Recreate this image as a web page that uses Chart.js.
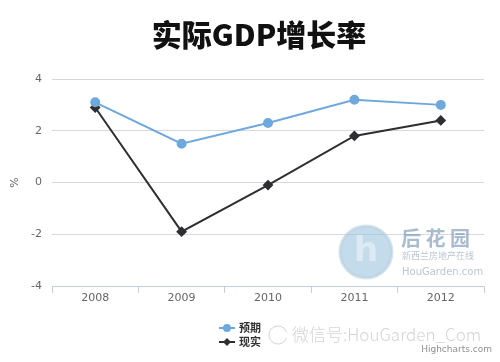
<!DOCTYPE html>
<html><head><meta charset="utf-8">
<script src="https://cdn.jsdelivr.net/npm/chart.js@4"></script>
<style>html,body{margin:0;padding:0;background:#fff}#wrap{width:500px;height:362px;position:relative}</style>
</head><body><div id="wrap"><canvas id="c" width="500" height="362"></canvas></div>
<script>
const title = '实际GDP增长率';
const years = ['2008', '2009', '2010', '2011', '2012'];
const expected = [3.1, 1.5, 2.3, 3.2, 3.0];
const actual = [2.9, -1.9, -0.1, 1.8, 2.4];
const seriesNames = ['预期', '现实'];
const yTicks = [-4, -2, 0, 2, 4];
const yTitle = '%';

const decor = {
  id: 'decor',
  afterDraw(chart) {
    const ctx = chart.ctx;
    ctx.save();
    // title
    ctx.fillStyle = '#111';
    ctx.font = '900 30px "Noto Sans CJK SC"';
    ctx.textAlign = 'center';
    ctx.textBaseline = 'middle';
    ctx.fillText(title, 259, 35);
    // legend
    const ds = chart.data.datasets;
    ds.forEach((d, i) => {
      const y = 328 + i * 14;
      ctx.strokeStyle = d.borderColor;
      ctx.lineWidth = 2;
      ctx.beginPath(); ctx.moveTo(219, y); ctx.lineTo(235, y); ctx.stroke();
      ctx.fillStyle = d.borderColor;
      ctx.beginPath();
      if (d.pointStyle === 'rectRot') {
        ctx.moveTo(227, y - 4); ctx.lineTo(231, y); ctx.lineTo(227, y + 4); ctx.lineTo(223, y);
      } else {
        ctx.arc(227, y, 4, 0, Math.PI * 2);
      }
      ctx.fill();
      ctx.fillStyle = '#333';
      ctx.font = 'bold 11px "Noto Sans CJK SC"';
      ctx.textAlign = 'left';
      ctx.fillText(d.label, 239, y);
    });
    // watermark text
    ctx.fillStyle = 'rgba(170,170,170,0.5)';
    ctx.font = '300 17px "Noto Sans CJK SC"';
    ctx.textAlign = 'left';
    ctx.fillText('微信号:HouGarden_Com', 292, 335);
    ctx.strokeStyle = 'rgba(170,170,170,0.5)';
    ctx.lineWidth = 1;
    ctx.beginPath(); ctx.arc(278, 335, 9, 0.3, Math.PI * 1.9); ctx.stroke();
    // credit
    ctx.fillStyle = '#909090';
    ctx.font = '9px "DejaVu Sans"';
    ctx.textAlign = 'right';
    ctx.fillText('Highcharts.com', 492, 350);
    // logo watermark
    ctx.globalAlpha = 0.6;
    ctx.fillStyle = '#9cc3e0';
    ctx.strokeStyle = '#b8cfe0';
    ctx.lineWidth = 3;
    ctx.beginPath(); ctx.arc(366, 252, 26, 0, Math.PI * 2); ctx.fill(); ctx.stroke();
    ctx.fillStyle = '#eef4fa';
    ctx.font = 'bold 34px "DejaVu Sans"';
    ctx.textAlign = 'center';
    ctx.fillText('h', 366, 252);
    ctx.fillStyle = '#6f8fae';
    ctx.font = 'bold 20px "Noto Sans CJK SC"';
    ctx.textAlign = 'left';
    ctx.fillText('后 花 园', 401, 238);
    ctx.font = '9px "Noto Sans CJK SC"';
    ctx.fillStyle = '#8aa0b5';
    ctx.fillText('新西兰房地产在线', 402, 256);
    ctx.font = '10px "DejaVu Sans"';
    ctx.fillText('HouGarden.com', 402, 272);
    ctx.restore();
  }
};

new Chart(document.getElementById('c'), {
  type: 'line',
  data: {
    labels: years,
    datasets: [
      { label: seriesNames[0], data: expected, borderColor: '#6fa8dc', backgroundColor: '#6fa8dc',
        borderWidth: 2, pointRadius: 4, pointHoverRadius: 4, pointStyle: 'circle', tension: 0 },
      { label: seriesNames[1], data: actual, borderColor: '#2e2e33', backgroundColor: '#2e2e33',
        borderWidth: 2, pointRadius: 4, pointHoverRadius: 4, pointStyle: 'rectRot', tension: 0 }
    ]
  },
  options: {
    responsive: false,
    animation: false,
    layout: { padding: { top: 79, right: 16, left: 0, bottom: 0 } },
    plugins: { legend: { display: false }, title: { display: false }, tooltip: { enabled: false } },
    scales: {
      x: {
        offset: true,
        grid: { display: true, offset: true, drawOnChartArea: false, drawTicks: true, tickLength: 7, color: '#c0d0e0' },
        border: { display: true, color: '#c0d0e0', width: 1 },
        ticks: { color: '#666', font: { size: 11, family: 'DejaVu Sans' }, padding: -1, maxRotation: 0 },
        afterFit(s) { s.height = 76; }
      },
      y: {
        min: -4, max: 4,
        afterBuildTicks(s) { s.ticks = yTicks.map(v => ({ value: v })); },
        grid: { color: '#d8d8d8', drawTicks: false },
        border: { display: false },
        ticks: { color: '#666', font: { size: 11, family: 'DejaVu Sans' }, padding: 10 },
        title: { display: true, text: yTitle, color: '#666', font: { size: 11, family: 'DejaVu Sans' }, padding: { top: 9, bottom: 0 } },
        afterFit(s) { s.width = 52; }
      }
    }
  },
  plugins: [decor]
});
</script></body></html>
